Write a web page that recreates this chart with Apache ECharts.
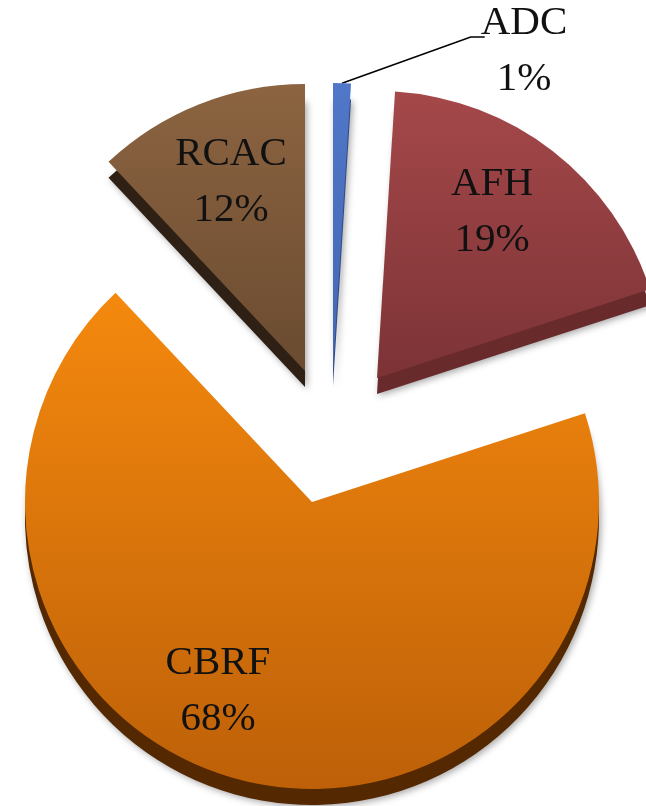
<!DOCTYPE html>
<html>
<head>
<meta charset="utf-8">
<style>
  html, body { margin: 0; padding: 0; background: #ffffff; }
  #chart { width: 646px; height: 806px; }
</style>
<script src="https://cdn.jsdelivr.net/npm/echarts@6/dist/echarts.min.js"></script>
</head>
<body>
<div id="chart"></div>
<script>
// Share of each category (percent), clockwise from 12 o'clock
const categories = ['ADC', 'AFH', 'CBRF', 'RCAC'];
const shares = [1, 19, 68, 12];

// Look of each slice: top-face gradient, side colour, exploded centre, label spot
const sliceStyle = {
  ADC:  { top: ['#5077c8', '#4466b4'], side: '#2f4a86', center: [333, 370], label: [524, 51],  outside: true },
  AFH:  { top: ['#a5484a', '#7c3336'], side: '#692a2c', center: [377, 378], label: [492, 212] },
  CBRF: { top: ['#f5890e', '#bd6008'], side: '#542800', center: [312, 502], label: [218, 691] },
  RCAC: { top: ['#8c6441', '#6a4b30'], side: '#2e2014', center: [305, 371], label: [231, 182] }
};

const RADIUS = 287;
const DEPTH = 16;
const FONT = '"Liberation Serif", "DejaVu Serif", serif';
const FONT_SIZE = 41;
const LINE_H = 56;

function grad(c) {
  return { type: 'linear', x: 0, y: 0, x2: 0, y2: 1,
    colorStops: [{ offset: 0, color: c[0] }, { offset: 1, color: c[1] }] };
}

// Each slice gets its own pie series (all values, only its own sector painted),
// so every sector can sit at its own exploded centre.
function sliceData(name, layer) {
  return categories.map((c, i) => {
    const own = c === name;
    const st = sliceStyle[name];
    return {
      name: c,
      value: shares[i],
      itemStyle: own
        ? (layer === 'side'
            ? { color: st.side, shadowBlur: 7, shadowColor: 'rgba(0,0,0,0.35)', shadowOffsetX: 2, shadowOffsetY: 2 }
            : { color: grad(st.top) })
        : { color: 'rgba(0,0,0,0)' },
      label: { show: own && layer === 'top' },
      labelLine: { show: own && layer === 'top' && !!st.outside }
    };
  });
}

const sideSeries = categories.map(name => ({
  type: 'pie',
  name: name + '-side',
  silent: true,
  radius: RADIUS,
  center: [sliceStyle[name].center[0], sliceStyle[name].center[1] + DEPTH],
  startAngle: 90,
  clockwise: true,
  avoidLabelOverlap: false,
  animation: false,
  label: { show: false },
  labelLine: { show: false },
  emphasis: { disabled: true },
  data: sliceData(name, 'side')
}));

const topSeries = categories.map(name => ({
  type: 'pie',
  name: name,
  silent: true,
  radius: RADIUS,
  center: sliceStyle[name].center,
  startAngle: 90,
  clockwise: true,
  avoidLabelOverlap: false,
  animation: false,
  label: {
    position: sliceStyle[name].outside ? 'outside' : 'inside',
    formatter: '{b}\n{d}%',
    fontFamily: FONT,
    fontSize: FONT_SIZE,
    lineHeight: LINE_H,
    color: '#111111',
    align: 'center'
  },
  labelLine: {
    length: 20,
    length2: 20,
    lineStyle: { color: '#000000', width: 1.6 }
  },
  labelLayout: function (params) {
    const st = sliceStyle[name];
    const x = st.label[0], y = st.label[1];
    const out = { x: x, y: y, align: 'center', verticalAlign: 'middle' };
    if (st.outside && params.labelLinePoints) {
      const start = params.labelLinePoints[0];
      const left = x - params.labelRect.width / 2 + 4;
      const lineY = y - LINE_H / 2 + 14;
      out.labelLinePoints = [start, [left - 14, lineY], [left, lineY]];
    }
    return out;
  },
  emphasis: { disabled: true },
  data: sliceData(name, 'top')
}));

const chart = echarts.init(document.getElementById('chart'), null, { renderer: 'canvas' });
chart.setOption({
  backgroundColor: '#ffffff',
  animation: false,
  series: sideSeries.concat(topSeries)
});
</script>
</body>
</html>
